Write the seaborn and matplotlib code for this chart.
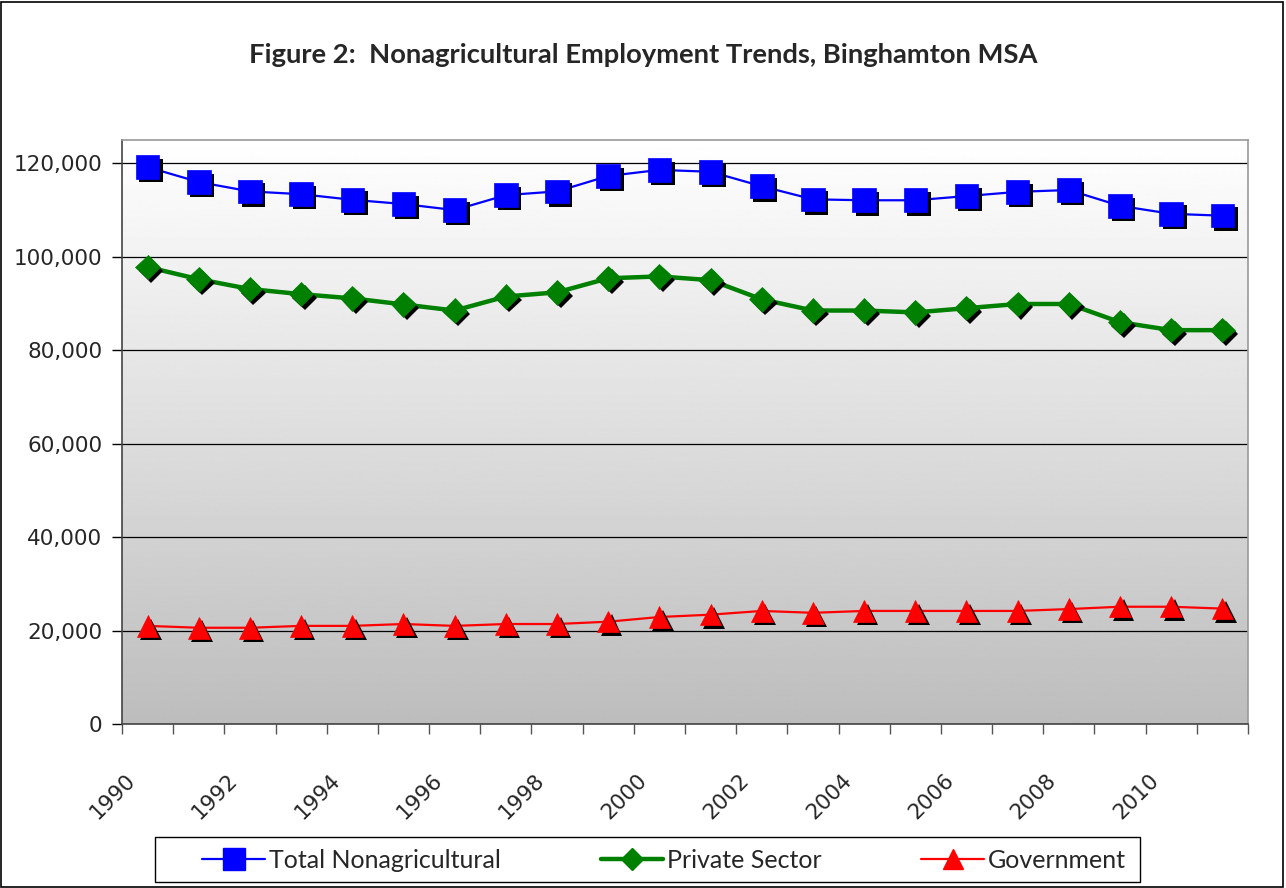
import numpy as np
import pandas as pd
import matplotlib
matplotlib.use("Agg")
import matplotlib.pyplot as plt
import matplotlib.patheffects as pe
from matplotlib.patches import Rectangle
from matplotlib.ticker import FuncFormatter, FixedLocator
from matplotlib.transforms import ScaledTranslation
import seaborn as sns

years = list(range(1990, 2012))
total = [119200, 116000, 114000, 113400, 112200, 111300, 110000, 113200, 114000, 117300,
         118600, 118200, 115100, 112300, 112100, 112100, 113000, 113900, 114300, 110900,
         109200, 108800]
private = [97800, 95200, 93100, 92000, 91100, 89800, 88500, 91500, 92400, 95400,
           95800, 95000, 90900, 88500, 88500, 88100, 89000, 89900, 89900, 86000,
           84300, 84300]
government = [21000, 20600, 20600, 21000, 21000, 21400, 21000, 21400, 21400, 21900,
              22900, 23400, 24200, 23800, 24200, 24200, 24200, 24200, 24600, 25100,
              25100, 24700]
series_names = ["Total Nonagricultural", "Private Sector", "Government"]
label_years = list(range(1990, 2011, 2))

df = pd.DataFrame({"Year": years * 3,
                   "Jobs": total + private + government,
                   "Series": [series_names[0]] * 22 + [series_names[1]] * 22 + [series_names[2]] * 22})

sns.set_style("white")
plt.rcParams['font.family'] = ['DejaVu Sans']

fig = plt.figure(figsize=(12.86, 8.88), dpi=100)
ax = fig.add_axes([122 / 1286, 1 - 724 / 888, (1248 - 122) / 1286, (724 - 140) / 888])

# gradient background
grad = np.linspace(1.0, 0.74, 256).reshape(-1, 1)
ax.imshow(grad, cmap="gray", vmin=0, vmax=1, aspect="auto", extent=[0, 1, 0, 1],
          transform=ax.transAxes, zorder=0, interpolation="bilinear")

colors = {series_names[0]: "#0000ff", series_names[1]: "#008000", series_names[2]: "#ff0000"}
markers = {series_names[0]: "s", series_names[1]: "D", series_names[2]: "^"}
msizes = {series_names[0]: 17, series_names[1]: 12.5, series_names[2]: 15.5}
lws = {series_names[0]: 1.6, series_names[1]: 3.2, series_names[2]: 1.6}

for name in series_names:
    sub = df[df["Series"] == name]
    sns.lineplot(data=sub, x="Year", y="Jobs", ax=ax, color=colors[name], linewidth=lws[name],
                 zorder=3, legend=False)
    ax.plot(sub["Year"], sub["Jobs"], linestyle="none", marker=markers[name],
            markersize=msizes[name], markerfacecolor=colors[name], markeredgecolor=colors[name],
            markeredgewidth=0.5, zorder=4,
            path_effects=[pe.SimplePatchShadow(offset=(2.5, -2.5), shadow_rgbFace="black", alpha=1.0),
                          pe.Normal()])

ax.set_xlim(1989.5, 2011.5)
ax.set_ylim(0, 125000)
ax.set_yticks(range(0, 120001, 20000))
ax.yaxis.set_major_formatter(FuncFormatter(lambda v, p: f"{int(v):,}"))
ax.grid(axis="y", color="black", linewidth=0.9, zorder=1)
ax.set_axisbelow(True)

ax.xaxis.set_major_locator(FixedLocator([y - 0.5 for y in label_years]))
ax.set_xticklabels([str(y) for y in label_years], rotation=45, ha="right",
                   rotation_mode="anchor", fontsize=15.5)
ax.xaxis.set_minor_locator(FixedLocator([y - 0.5 for y in years] + [2011.5]))
ax.tick_params(axis="x", which="both", direction="out", length=7, width=1, color="#555555",
               bottom=True, pad=26)
ax.tick_params(axis="y", direction="out", length=7, width=1, color="black", left=True,
               labelsize=15.5, pad=7)
for lab in ax.get_xticklabels():
    lab.set_transform(lab.get_transform() + ScaledTranslation(3 / 100, 0, fig.dpi_scale_trans))
ax.set_xlabel("")
ax.set_ylabel("")

for s in ["top", "right"]:
    ax.spines[s].set_color("#999999")
    ax.spines[s].set_linewidth(1.2)
ax.spines["left"].set_color("#444444")
ax.spines["left"].set_linewidth(1.2)
ax.spines["bottom"].set_color("#444444")
ax.spines["bottom"].set_linewidth(1.2)

fig.text(0.5, 1 - 55 / 888, "Figure 2:  Nonagricultural Employment Trends, Binghamton MSA",
         ha="center", va="center", fontsize=19.7, fontweight="bold", family=["Lato", "DejaVu Sans"])

# legend
handles = []
for name in series_names:
    h, = ax.plot([], [], color=colors[name], linewidth=lws[name], marker=markers[name],
                 markersize=msizes[name] * 0.9, markerfacecolor=colors[name], markeredgecolor=colors[name])
    handles.append(h)
leg = fig.legend(handles, series_names, loc="center", bbox_to_anchor=(664 / 1286, 1 - 860 / 888),
                 ncol=3, frameon=False,
                 prop={"family": ["Lato", "DejaVu Sans"], "size": 18}, handlelength=2.5,
                 handletextpad=0.15, columnspacing=4.0, borderpad=0.2)
fig.patches.append(Rectangle((155 / 1286, 1 - 882 / 888), (1140 - 155) / 1286, 45 / 888,
                             transform=fig.transFigure, fill=False, edgecolor="black", linewidth=1.0))

fig.patches.append(Rectangle((0.001, 0.001), 0.997, 0.997, transform=fig.transFigure,
                             fill=False, edgecolor="black", linewidth=1.2))

fig.savefig("out.png", dpi=100)
